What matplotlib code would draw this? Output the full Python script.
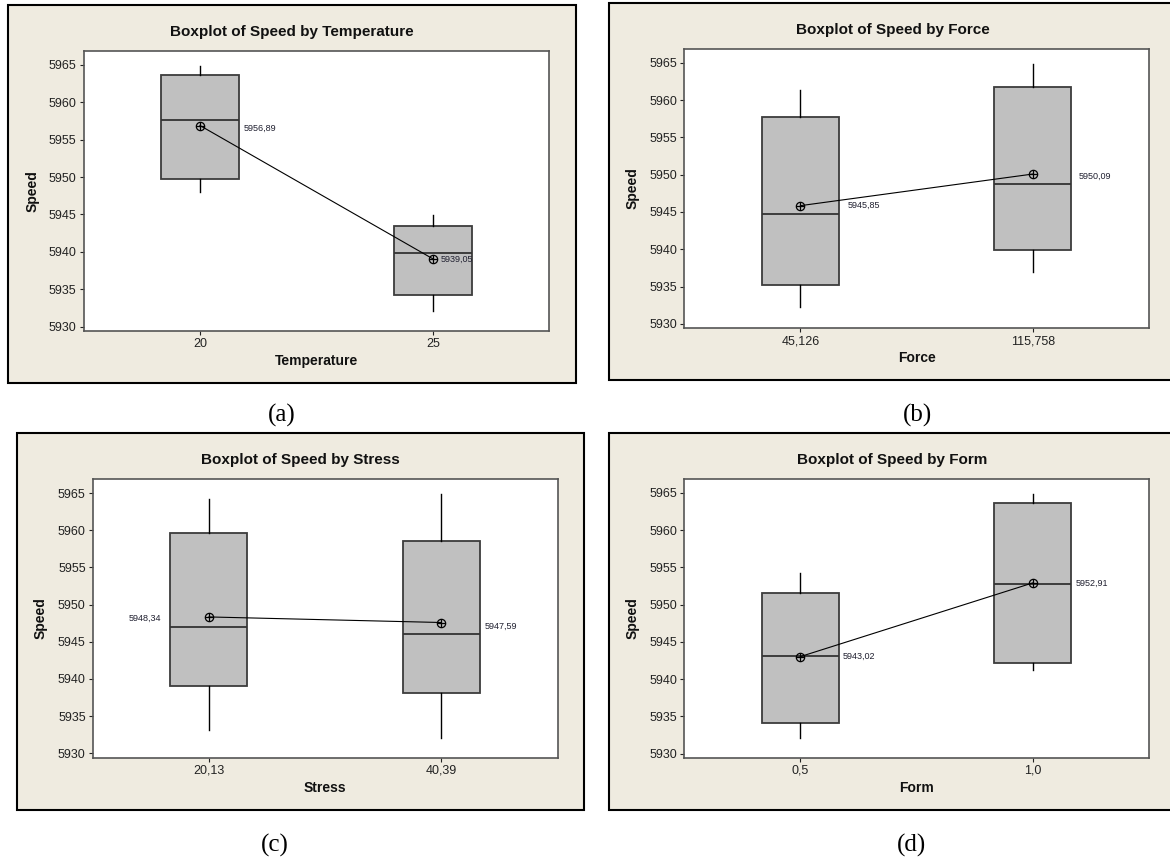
import numpy as np
import matplotlib
matplotlib.use("Agg")
import matplotlib.pyplot as plt
from matplotlib.patches import Rectangle

# values (Minitab boxplots)
titles = ["Boxplot of Speed by Temperature", "Boxplot of Speed by Force",
          "Boxplot of Speed by Stress", "Boxplot of Speed by Form"]
xlabels = ["Temperature", "Force", "Stress", "Form"]
tick_labels = [["20", "25"], ["45,126", "115,758"], ["20,13", "40,39"], ["0,5", "1,0"]]
captions = ["(a)", "(b)", "(c)", "(d)"]

whis_lo = [[5948.0, 5932.1], [5932.2, 5937.0], [5933.1, 5932.1], [5932.1, 5941.2]]
q1 = [[5949.7, 5934.2], [5935.2, 5939.9], [5939.0, 5938.1], [5934.1, 5942.2]]
med = [[5957.6, 5939.9], [5944.7, 5948.7], [5946.95, 5946.0], [5943.1, 5952.8]]
q3 = [[5963.6, 5943.5], [5957.7, 5961.8], [5959.6, 5958.6], [5951.6, 5963.6]]
whis_hi = [[5964.9, 5944.9], [5961.3, 5964.9], [5964.2, 5964.9], [5954.3, 5964.9]]
means = [[5956.89, 5939.05], [5945.85, 5950.09], [5948.34, 5947.59], [5943.02, 5952.91]]
mean_text = [["5956,89", "5939,05"], ["5945,85", "5950,09"],
             ["5948,34", "5947,59"], ["5943,02", "5952,91"]]

W, H = 1170, 859
fig = plt.figure(figsize=(W / 100, H / 100), dpi=100)
fig.patch.set_facecolor("white")

# pixel layout: frame, plot area, title y, xlabel y, ylabel x, caption
layout = [
    dict(frame=(8, 5, 576, 383), plot=(83.5, 50.7, 549.4, 331), ty=32, xy=361, yx=33, cap=(282, 415)),
    dict(frame=(609, 3, 1176, 380), plot=(684.3, 48.7, 1149, 328.3), ty=30, xy=358, yx=633, cap=(918, 415)),
    dict(frame=(17, 433, 584, 810), plot=(92.6, 479, 557.7, 757.7), ty=460, xy=788, yx=41, cap=(275, 845)),
    dict(frame=(609, 433, 1176, 810), plot=(684.3, 478.7, 1149, 758), ty=460, xy=788, yx=633, cap=(912, 845)),
]
# label offsets in pixels from the mean point (dx, dy, ha)
lab_off = [[(44, -2.5, "left"), (8, 0, "left")],
           [(47, 0, "left"), (46, -2, "left")],
           [(-48, -1.5, "right"), (43, -3.5, "left")],
           [(42, 0, "left"), (43, 0, "left")]]

beige = "#EFEBE0"
font = "Liberation Sans"


def fx(x):
    return x / W


def fy(y):
    return 1 - y / H


for i, L in enumerate(layout):
    l, t, r, b = L["frame"]
    fig.add_artist(Rectangle((fx(l), fy(b)), fx(r - l), (b - t) / H, transform=fig.transFigure,
                             facecolor=beige, edgecolor="black", linewidth=1.5, zorder=0))
    pl, pt, pr, pb = L["plot"]
    ax = fig.add_axes([fx(pl), fy(pb), fx(pr - pl), (pb - pt) / H])
    ax.set_facecolor("white")

    stats = []
    for j in range(2):
        stats.append(dict(med=med[i][j], q1=q1[i][j], q3=q3[i][j],
                          whislo=whis_lo[i][j], whishi=whis_hi[i][j], fliers=[]))
    ax.bxp(stats, positions=[1, 2], widths=0.332, patch_artist=True, showcaps=False,
           boxprops=dict(facecolor="#C0C0C0", edgecolor="#3c3c3c", linewidth=1.3),
           medianprops=dict(color="#333333", linewidth=1.3),
           whiskerprops=dict(color="black", linewidth=1.0))

    ax.plot([1, 2], means[i], color="black", linewidth=0.8, zorder=4)
    ax.plot([1, 2], means[i], linestyle="none", marker="o", markersize=6,
            markerfacecolor="none", markeredgecolor="black", markeredgewidth=0.9, zorder=5)
    ax.plot([1, 2], means[i], linestyle="none", marker="+", markersize=6,
            markeredgecolor="black", markeredgewidth=0.9, zorder=5)
    for j in range(2):
        dx, dy, ha = lab_off[i][j]
        ax.annotate(mean_text[i][j], xy=(j + 1, means[i][j]), xytext=(dx, dy),
                    textcoords="offset pixels", ha=ha, va="center",
                    fontsize=6.5, family=font, color="#202030")

    ax.set_xlim(0.5, 2.5)
    ax.set_ylim(5929.4, 5966.9)
    ax.set_yticks(np.arange(5930, 5966, 5))
    ax.set_xticks([1, 2])
    ax.set_xticklabels(tick_labels[i])
    ax.tick_params(direction="out", length=3, width=0.8, pad=2, labelsize=9,
                   colors="#222222", top=False, right=False)
    for lab in ax.get_xticklabels() + ax.get_yticklabels():
        lab.set_family(font)
    for s in ax.spines.values():
        s.set_color("#555555")
        s.set_linewidth(1.2)

    fig.text(fx((l + r) / 2), fy(L["ty"]), titles[i], ha="center", va="center",
             fontsize=11, fontweight="bold", family=font, color="#111111")
    fig.text(fx((pl + pr) / 2), fy(L["xy"]), xlabels[i], ha="center", va="center",
             fontsize=10, fontweight="bold", family=font, color="#111111")
    fig.text(fx(L["yx"]), fy((pt + pb) / 2), "Speed", ha="center", va="center", rotation=90,
             fontsize=10, fontweight="bold", family=font, color="#111111")
    cx, cy = L["cap"]
    fig.text(fx(cx), fy(cy), captions[i], ha="center", va="center",
             fontsize=18, family="Liberation Serif", color="black")

fig.savefig("out.png", dpi=100)
